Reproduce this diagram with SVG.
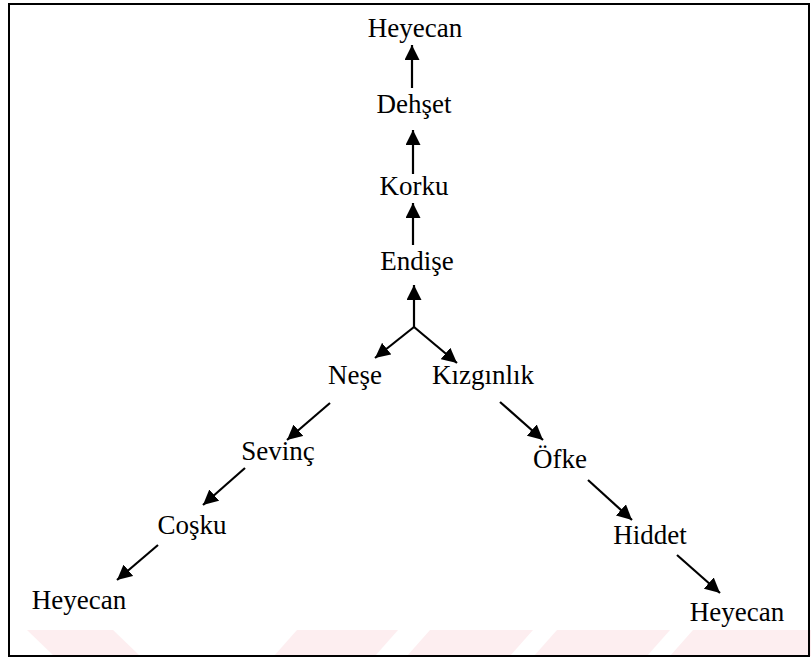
<svg xmlns="http://www.w3.org/2000/svg" width="811" height="659" viewBox="0 0 811 659">
  <style>
    .lbl { font-family: "Liberation Serif", "Times New Roman", serif; font-size: 27px; fill: #000; text-anchor: middle; }
    .arr { stroke: #000; stroke-width: 2.2; fill: none; marker-end: url(#head); }
    .wm { fill: #fdeef0; }
  </style>
  <defs>
    <marker id="head" viewBox="0 0 15 15" refX="15" refY="7.5" markerWidth="15" markerHeight="15" markerUnits="userSpaceOnUse" orient="auto">
      <path d="M0,0 L15,7.5 L0,15 Z" fill="#000"/>
    </marker>
  </defs>

  <rect width="811" height="659" fill="#fff"/>

  <!-- faint stripes along the bottom edge -->
  <g id="stripes">
    <polygon class="wm" points="27,630 113,630 140,656 54,656"/>
    <polygon class="wm" points="297,630 398,630 375,656 274,656"/>
    <polygon class="wm" points="430,630 533,630 510,656 407,656"/>
    <polygon class="wm" points="557,630 670,630 647,656 534,656"/>
    <polygon class="wm" points="693,630 811,630 811,656 670,656"/>
  </g>

  <!-- frame -->
  <rect id="frame" x="9" y="4" width="800" height="652" fill="none" stroke="#000" stroke-width="2"/>

  <g id="connectors">
    <line class="arr" x1="412" y1="88" x2="412" y2="45"/>
    <line class="arr" x1="413" y1="174" x2="413" y2="130"/>
    <line class="arr" x1="413" y1="245" x2="413" y2="203"/>
    <line class="arr" x1="414" y1="327" x2="414" y2="285"/>
    <line class="arr" x1="414" y1="327" x2="375" y2="358"/>
    <line class="arr" x1="414" y1="327" x2="457" y2="363"/>
    <line class="arr" x1="330" y1="403" x2="287" y2="440"/>
    <line class="arr" x1="245" y1="468" x2="203" y2="505"/>
    <line class="arr" x1="158" y1="545" x2="117" y2="580"/>
    <line class="arr" x1="500" y1="402" x2="543" y2="440"/>
    <line class="arr" x1="588" y1="480" x2="632" y2="520"/>
    <line class="arr" x1="677" y1="555" x2="720" y2="593"/>
  </g>

  <g id="heyecan-top"><text class="lbl" x="415" y="37">Heyecan</text></g>
  <g id="dehset"><text class="lbl" x="414" y="113">Dehşet</text></g>
  <g id="korku"><text class="lbl" x="414" y="195">Korku</text></g>
  <g id="endise"><text class="lbl" x="417" y="270">Endişe</text></g>
  <g id="nese"><text class="lbl" x="355" y="384">Neşe</text></g>
  <g id="kizginlik"><text class="lbl" x="483" y="384">Kızgınlık</text></g>
  <g id="sevinc"><text class="lbl" x="278" y="460">Sevinç</text></g>
  <g id="cosku"><text class="lbl" x="192" y="534">Coşku</text></g>
  <g id="heyecan-left"><text class="lbl" x="79" y="609">Heyecan</text></g>
  <g id="ofke"><text class="lbl" x="560" y="468">Öfke</text></g>
  <g id="hiddet"><text class="lbl" x="650" y="544">Hiddet</text></g>
  <g id="heyecan-right"><text class="lbl" x="737" y="621">Heyecan</text></g>
</svg>
